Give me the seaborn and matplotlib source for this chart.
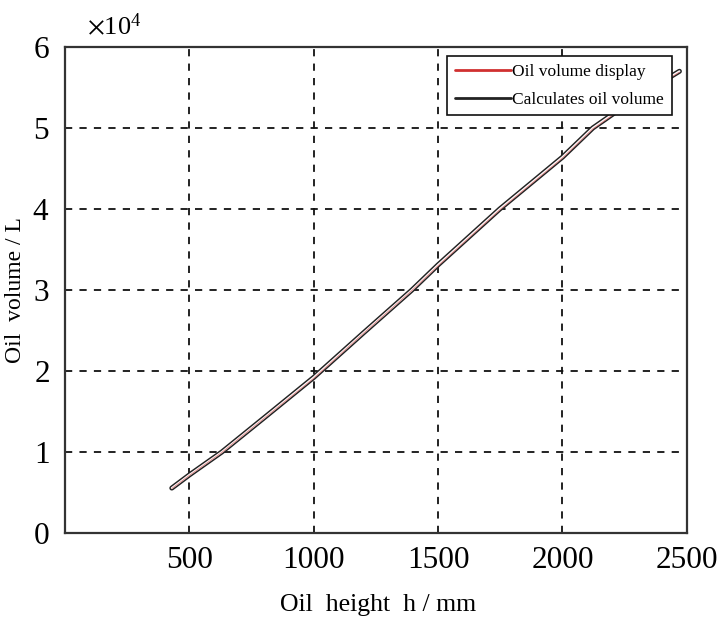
import numpy as np
import pandas as pd
import matplotlib
matplotlib.use('Agg')
import matplotlib.pyplot as plt
import seaborn as sns
from matplotlib.ticker import ScalarFormatter

# Высота (мм) и объём (л)
oil_height = [430, 500, 631, 800, 1000, 1200, 1395, 1500, 1748, 2000, 2122, 2300, 2470]
calc_volume = [5550, 7160, 10000, 14200, 19200, 24700, 30000, 33100, 40000, 46400, 50000, 53800, 57000]
display_volume = [5500, 7100, 9950, 14150, 19100, 24650, 29950, 33000, 39900, 46300, 49900, 53700, 56900]

x_ticks = [500, 1000, 1500, 2000, 2500]
y_ticks = [0, 10000, 20000, 30000, 40000, 50000, 60000]

sns.set_style('white')
plt.rcParams['font.family'] = ['Liberation Serif', 'DejaVu Serif']
plt.rcParams['mathtext.fontset'] = 'stix'
plt.rcParams['text.color'] = 'black'
plt.rcParams['axes.labelcolor'] = 'black'
plt.rcParams['xtick.color'] = 'black'
plt.rcParams['ytick.color'] = 'black'

df = pd.DataFrame({'h': oil_height, 'calc': calc_volume, 'disp': display_volume})

fig = plt.figure(figsize=(7.2, 6.18), dpi=100)
ax = fig.add_axes([0.090, 0.1375, 0.864, 0.7865])

# Рисуем линии
sns.lineplot(x='h', y='calc', data=df, ax=ax, color='#222222', lw=3.6, label='Calculates oil volume')
sns.lineplot(x='h', y='calc', data=df, ax=ax, color='white', lw=1.5, legend=False)
sns.lineplot(x='h', y='disp', data=df, ax=ax, color='#d03030', lw=0.6, alpha=0.6, label='Oil volume display')

ax.set_xlim(0, 2500)
ax.set_ylim(0, 60000)
ax.set_xticks(x_ticks)
ax.set_yticks(y_ticks)

fmt = ScalarFormatter(useMathText=True)
fmt.set_powerlimits((0, 0))
ax.yaxis.set_major_formatter(fmt)
ax.yaxis.OFFSETTEXTPAD = 9
ax.yaxis.get_offset_text().set_fontsize(19)
ax.yaxis.get_offset_text().set_x(0.035)

ax.grid(True, color='#111111', linestyle=(0, (4, 4)), lw=1.3)
for s in ax.spines.values():
    s.set_color('#333333')
    s.set_linewidth(1.6)
ax.tick_params(axis='both', labelsize=22.5, direction='in', length=0)
ax.tick_params(axis='x', pad=9)
ax.tick_params(axis='y', pad=11)

ax.set_xlabel('Oil  height  h / mm', fontsize=18.5)
ax.xaxis.set_label_coords(0.504, -0.125)
ax.set_ylabel('Oil  volume / L', fontsize=17)
ax.yaxis.set_label_coords(-0.062, 0.5)

handles, labels = ax.get_legend_handles_labels()
order = [labels.index('Oil volume display'), labels.index('Calculates oil volume')]
leg = ax.legend([handles[i] for i in order], [labels[i] for i in order],
                loc='upper right', bbox_to_anchor=(0.976, 0.981), fontsize=12.5,
                frameon=True, fancybox=False, framealpha=1, edgecolor='#111111',
                handlelength=3.2, borderpad=0.45, labelspacing=0.65, handletextpad=0.1,
                borderaxespad=0)
leg.get_frame().set_linewidth(1.2)
leg.legend_handles[0].set_color('#d03030')
leg.legend_handles[0].set_linewidth(2)
leg.legend_handles[0].set_alpha(1)
leg.legend_handles[1].set_linewidth(2)

fig.savefig('out.png', dpi=100)
